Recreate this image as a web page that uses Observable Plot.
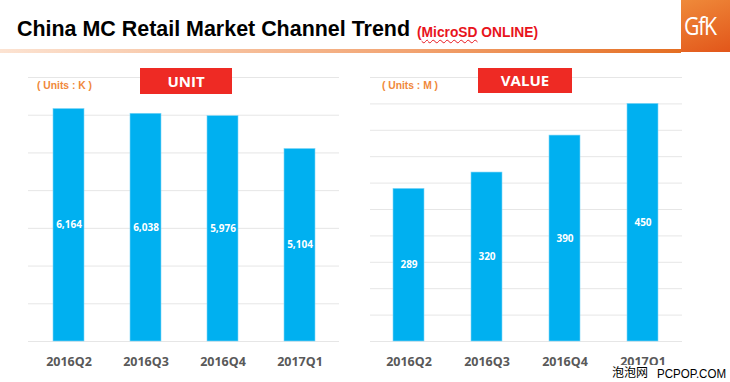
<!DOCTYPE html>
<html><head><meta charset="utf-8">
<script src="https://cdn.jsdelivr.net/npm/d3@7"></script>
<script src="https://cdn.jsdelivr.net/npm/@observablehq/plot@0.6"></script>
<style>
body{margin:0;background:#fff;}
#wrap{position:relative;width:730px;height:382px;overflow:hidden;background:#fff;font-family:"Liberation Sans",Arial,sans-serif;}
.abs{position:absolute;white-space:nowrap;line-height:1;}
#title{left:17px;top:18.5px;font-size:21.5px;font-weight:bold;color:#000;transform-origin:0 0;}
#sub{left:416.7px;top:25px;font-size:14px;font-weight:bold;color:#E8141C;transform-origin:0 0;}
#sub u{text-decoration:underline wavy #E8141C;text-decoration-thickness:1px;text-underline-offset:2px;}
#rule{left:0;top:49px;width:681px;height:3.5px;background:linear-gradient(to right,#FCE3D2,#F2A472 60%,#E46E22);}
#logo{left:681px;top:0;width:49px;height:52px;background:linear-gradient(160deg,#EF8A3A,#E2561A);}
#logo span{position:absolute;left:3px;top:13px;font-family:"Open Sans",sans-serif;font-weight:400;font-size:25px;color:#fff;letter-spacing:-1.5px;line-height:1;transform:scaleX(0.85);transform-origin:0 0;}
.units{font-size:10.5px;font-weight:bold;color:#F0883A;top:79.5px;transform-origin:0 0;}
.badge{background:#EE2A24;color:#fff;font-family:"Open Sans",sans-serif;font-weight:bold;font-size:15px;display:flex;align-items:center;justify-content:center;}
.chart{position:absolute;top:60px;}
#wm{left:605px;top:365px;width:125px;height:17px;background:#fff;color:#000;}
#wm .cjk{position:absolute;left:7px;top:1px;font-family:"Noto Sans CJK SC",sans-serif;font-size:12px;line-height:1;}
#wm .lat{position:absolute;left:52px;top:2.5px;font-family:"Liberation Sans",Arial,sans-serif;font-size:12px;line-height:1;transform-origin:0 0;}
</style></head><body>
<div id="wrap">
  <div id="c1" class="chart" style="left:0px"></div>
  <div id="c2" class="chart" style="left:365px"></div>
  <div id="title" class="abs">China MC Retail Market Channel Trend</div>
  <div id="sub" class="abs">(<u>MicroSD</u> ONLINE)</div>
  <div id="rule" class="abs"></div>
  <div id="logo" class="abs"><span>GfK</span></div>
  <div id="u1" class="abs units" style="left:37px">( Units : K )</div>
  <div id="u2" class="abs units" style="left:382px">( Units : M )</div>
  <div class="abs badge" style="left:140px;top:68px;width:92px;height:26px">UNIT</div>
  <div class="abs badge" style="left:478px;top:68px;width:94px;height:25px">VALUE</div>
  <div id="wm" class="abs"><span class="cjk">泡泡网</span><span id="wml" class="lat">PCPOP.COM</span></div>
</div>
<script>
const quarters = ["2016Q2", "2016Q3", "2016Q4", "2017Q1"];
const unitValues = [6164, 6038, 5976, 5104];
const valueValues = [289, 320, 390, 450];
const unitTicks = [0, 1000, 2000, 3000, 4000, 5000, 6000, 7000];
const valueTicks = [0, 50, 100, 150, 200, 250, 300, 350, 400, 450, 500];

function makeChart(values, ticks, marginLeft, marginRight) {
  const data = quarters.map((q, i) => ({q, v: values[i]}));
  return Plot.plot({
    width: 365,
    height: 322,
    marginTop: 17,
    marginBottom: 41,
    marginLeft,
    marginRight,
    style: {background: "transparent", overflow: "visible"},
    x: {domain: quarters, paddingInner: 0.6, paddingOuter: 0.3, label: null},
    y: {domain: [ticks[0], ticks[ticks.length - 1]], axis: null},
    marks: [
      Plot.ruleY(ticks, {stroke: "#E6E6E6", strokeWidth: 1}),
      Plot.barY(data, {x: "q", y: "v", fill: "#00B0F0", stroke: "#7FD6F7", strokeWidth: 0.6}),
      Plot.text(data, {x: "q", y: d => d.v / 2, text: d => d3.format(",")(d.v), fill: "#fff",
        fontSize: 10, fontWeight: "bold", fontFamily: "Open Sans"}),
      Plot.axisX({tickSize: 0, tickPadding: 16, fontSize: 12.5, fontWeight: "bold",
        fontFamily: "Open Sans", fill: "#595959", label: null})
    ]
  });
}

document.getElementById("c1").appendChild(makeChart(unitValues, unitTicks, 28, 26));
document.getElementById("c2").appendChild(makeChart(valueValues, valueTicks, 5, 48));

function fit(id, w) {
  const el = document.getElementById(id);
  const r = el.getBoundingClientRect().width;
  el.style.transform = `scaleX(${w / r})`;
}
fit("title", 393);
fit("sub", 121);
fit("u1", 55);
fit("u2", 56);
fit("wml", 69);
</script>
</body></html>
